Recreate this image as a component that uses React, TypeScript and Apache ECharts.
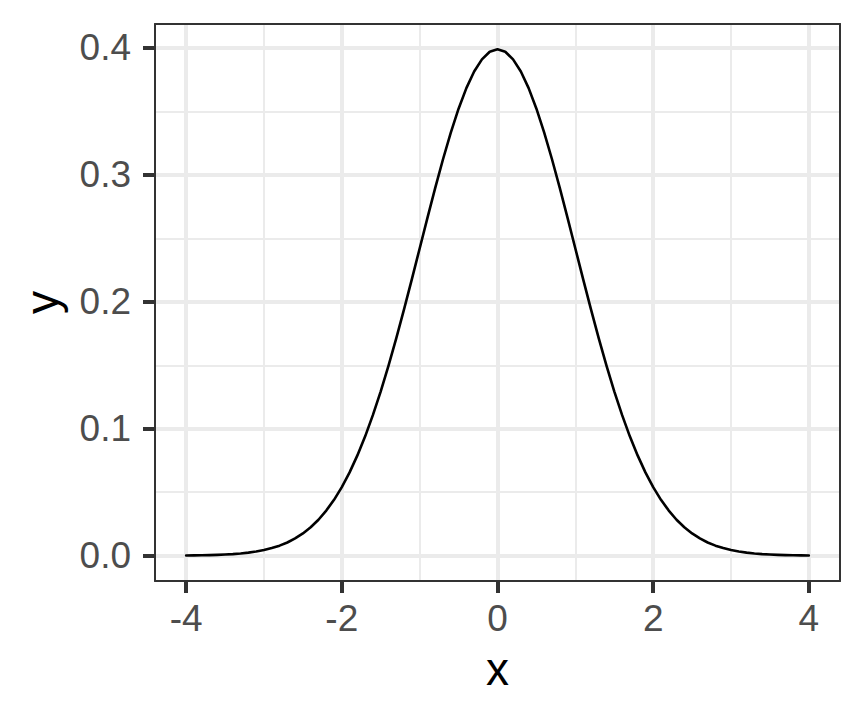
import React, { useEffect, useRef } from "react";
import * as echarts from "echarts";

// values (x every 0.1 from -4 to 4)
const xValues = [
  -4, -3.9, -3.8, -3.7, -3.6, -3.5, -3.4, -3.3, -3.2, -3.1,
  -3, -2.9, -2.8, -2.7, -2.6, -2.5, -2.4, -2.3, -2.2, -2.1,
  -2, -1.9, -1.8, -1.7, -1.6, -1.5, -1.4, -1.3, -1.2, -1.1,
  -1, -0.9, -0.8, -0.7, -0.6, -0.5, -0.4, -0.3, -0.2, -0.1,
  0,
  0.1, 0.2, 0.3, 0.4, 0.5, 0.6, 0.7, 0.8, 0.9, 1,
  1.1, 1.2, 1.3, 1.4, 1.5, 1.6, 1.7, 1.8, 1.9, 2,
  2.1, 2.2, 2.3, 2.4, 2.5, 2.6, 2.7, 2.8, 2.9, 3,
  3.1, 3.2, 3.3, 3.4, 3.5, 3.6, 3.7, 3.8, 3.9, 4,
];
const yValues = [
  0.0001, 0.0002, 0.0003, 0.0004, 0.0006, 0.0009, 0.0012, 0.0017, 0.0024, 0.0033,
  0.0044, 0.006, 0.0079, 0.0104, 0.0136, 0.0175, 0.0224, 0.0283, 0.0355, 0.044,
  0.054, 0.0656, 0.079, 0.094, 0.1109, 0.1295, 0.1497, 0.1714, 0.1942, 0.2179,
  0.242, 0.2661, 0.2897, 0.3123, 0.3332, 0.3521, 0.3683, 0.3814, 0.391, 0.397,
  0.3989,
  0.397, 0.391, 0.3814, 0.3683, 0.3521, 0.3332, 0.3123, 0.2897, 0.2661, 0.242,
  0.2179, 0.1942, 0.1714, 0.1497, 0.1295, 0.1109, 0.094, 0.079, 0.0656, 0.054,
  0.044, 0.0355, 0.0283, 0.0224, 0.0175, 0.0136, 0.0104, 0.0079, 0.006, 0.0044,
  0.0033, 0.0024, 0.0017, 0.0012, 0.0009, 0.0006, 0.0004, 0.0003, 0.0002, 0.0001,
];

const xMajorTicks = [-4, -2, 0, 2, 4];
const xMinorBreaks = [-3, -1, 1, 3];
const yMajorTicks = [0, 0.1, 0.2, 0.3, 0.4];
const yMinorBreaks = [0.05, 0.15, 0.25, 0.35];

const xRange = [-4.4, 4.4];
const yRange = [-0.01995, 0.41884];

const FONT = "Liberation Sans, Arial, Helvetica, sans-serif";
const GRID_COLOR = "#EBEBEB";
const DARK = "#333333";

export default function App() {
  const ref = useRef<HTMLDivElement>(null);

  useEffect(() => {
    document.body.style.margin = "0";
    if (!ref.current) return;
    const chart = echarts.init(ref.current, null, { renderer: "svg" });

    const gridLine = (key: "xAxis" | "yAxis", v: number, width: number) => ({
      [key]: v,
      lineStyle: { color: GRID_COLOR, width, type: "solid" },
    });

    const markData = [
      ...xMinorBreaks.map((v) => gridLine("xAxis", v, 2)),
      ...yMinorBreaks.map((v) => gridLine("yAxis", v, 2)),
      ...xMajorTicks.map((v) => gridLine("xAxis", v, 4)),
      ...yMajorTicks.map((v) => gridLine("yAxis", v, 4)),
    ];

    const baseAxisLine = { show: true, onZero: false, lineStyle: { color: DARK, width: 2 } };

    chart.setOption({
      animation: false,
      backgroundColor: "#ffffff",
      grid: { left: 155, right: 24, top: 24, bottom: 139, containLabel: false },
      xAxis: [
        {
          type: "value",
          min: xRange[0],
          max: xRange[1],
          position: "bottom",
          z: 5,
          axisLine: baseAxisLine,
          axisTick: { show: true, customValues: xMajorTicks, length: 12, lineStyle: { color: DARK, width: 4 } },
          axisLabel: {
            show: true,
            customValues: xMajorTicks,
            margin: 19,
            fontSize: 37,
            color: "#4D4D4D",
            fontFamily: FONT,
            formatter: (v: number) => String(v),
          },
          splitLine: { show: false },
          minorSplitLine: { show: false },
          name: "x",
          nameLocation: "middle",
          nameGap: 65,
          nameTextStyle: { fontSize: 46, color: "#000000", fontFamily: FONT },
        },
        {
          type: "value",
          min: xRange[0],
          max: xRange[1],
          position: "top",
          z: 5,
          axisLine: baseAxisLine,
          axisTick: { show: false },
          axisLabel: { show: false },
          splitLine: { show: false },
        },
      ],
      yAxis: [
        {
          type: "value",
          min: yRange[0],
          max: yRange[1],
          position: "left",
          z: 5,
          axisLine: baseAxisLine,
          axisTick: { show: true, customValues: yMajorTicks, length: 12, lineStyle: { color: DARK, width: 4 } },
          axisLabel: {
            show: true,
            customValues: yMajorTicks,
            margin: 24,
            fontSize: 37,
            color: "#4D4D4D",
            fontFamily: FONT,
            formatter: (v: number) => v.toFixed(1),
          },
          splitLine: { show: false },
          minorSplitLine: { show: false },
          name: "y",
          nameLocation: "middle",
          nameGap: 90,
          nameRotate: 90,
          nameTextStyle: { fontSize: 46, color: "#000000", fontFamily: FONT },
        },
        {
          type: "value",
          min: yRange[0],
          max: yRange[1],
          position: "right",
          z: 5,
          axisLine: baseAxisLine,
          axisTick: { show: false },
          axisLabel: { show: false },
          splitLine: { show: false },
        },
      ],
      series: [
        {
          type: "line",
          xAxisIndex: 0,
          yAxisIndex: 0,
          z: 4,
          data: xValues.map((x, i) => [x, yValues[i]]),
          showSymbol: false,
          smooth: false,
          lineStyle: { color: "#000000", width: 2.6, join: "round", cap: "round" },
          markLine: {
            silent: true,
            z: 1,
            symbol: ["none", "none"],
            label: { show: false },
            emphasis: { disabled: true },
            animation: false,
            data: markData,
          },
        },
      ],
    });

    return () => chart.dispose();
  }, []);

  return <div ref={ref} style={{ width: 864, height: 720 }} />;
}
